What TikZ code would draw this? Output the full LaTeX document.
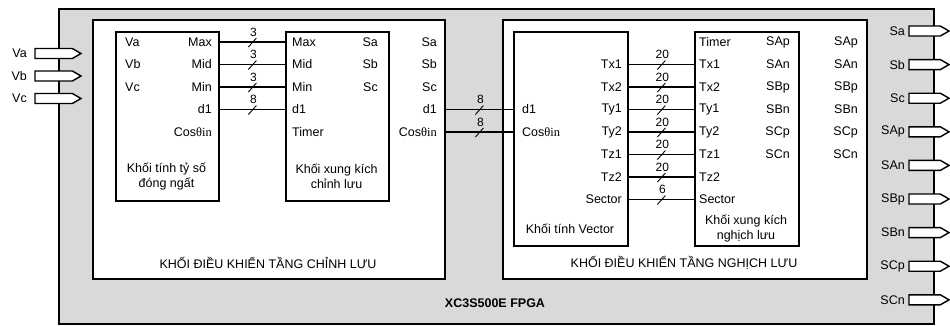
\documentclass[tikz,border=0pt]{standalone}
\usepackage{fontspec}
\setmainfont{Liberation Sans}
\newfontfamily\serifth{Liberation Serif}
\usepackage{tikz}
\usetikzlibrary{shapes.symbols, positioning}
\definecolor{chipgray}{RGB}{217,217,217}
\newcommand{\costh}{Cos{\serifth θin}}

\begin{document}
\begin{tikzpicture}[x=1pt, y=-1pt,
    txt/.style={font=\fontsize{12.5}{15}\selectfont, inner sep=0pt},
    blk/.style={draw, line width=1.8pt, fill=white, anchor=north west, inner sep=0pt},
    port/.style={draw, line width=1.4pt, fill=white, signal, signal to=east, signal pointer angle=60, minimum height=10pt, inner sep=0pt, outer sep=0pt},
    link/.style={draw, line width=1.8pt},
    pics/bus/.style={code={\draw[line width=0.9pt] (-4,5) -- (4,-4); \node[font=\fontsize{12}{14}\selectfont, inner sep=0pt] at (1,-10) {#1};}}
]
    \useasboundingbox (0,0) rectangle (950,325);

    % Boxes
    \node[blk, fill=chipgray, minimum width=875pt, minimum height=315pt] (fpga) at (58,8) {};
    \node[blk, minimum width=352pt, minimum height=259pt] (ctrlrec) at (92,19) {};
    \node[blk, minimum width=364pt, minimum height=259pt] (ctrlinv) at (502,19) {};
    \node[blk, minimum width=103pt, minimum height=169pt] (tyso) at (115,31) {};
    \node[blk, minimum width=103pt, minimum height=169pt] (xungcl) at (285,31) {};
    \node[blk, minimum width=114pt, minimum height=214pt] (vector) at (513,31) {};
    \node[blk, minimum width=104pt, minimum height=214pt] (xungnl) at (694,31) {};

    % Titles
    \node[txt, font=\fontsize{12.5}{15}\selectfont\bfseries] (chip) at (495,303) {XC3S500E FPGA};
    \node[txt] (rec-title) at (268,263) {KHỐI ĐIỀU KHIỂN TẦNG CHỈNH LƯU};
    \node[txt] (inv-title) at (684,263) {KHỐI ĐIỀU KHIỂN TẦNG NGHỊCH LƯU};
    \node[txt, align=center] (tyso-txt) at (166.5,176) {Khối tính tỷ số\\đóng ngất};
    \node[txt, align=center] (xungcl-txt) at (336.5,176) {Khối xung kích\\chỉnh lưu};
    \node[txt] (vec-txt) at (570,229) {Khối tính Vector};
    \node[txt, align=center] (xungnl-txt) at (746,228.5) {Khối xung kích\\nghịch lưu};

    % Pin labels
    \foreach \t [count=\i] in {Va,Vb,Vc}
        \node[txt, anchor=west] (tyso-l\i) at (125,19.5+22.5*\i) {\t};
    \foreach \t [count=\i] in {Max,Mid,Min,d1,\costh}
        \node[txt, anchor=east] (tyso-r\i) at (212,19.5+22.5*\i) {\t};
    \foreach \t [count=\i] in {Max,Mid,Min,d1,Timer}
        \node[txt, anchor=west] (xungcl-l\i) at (292,19.5+22.5*\i) {\t};
    \foreach \t [count=\i] in {Sa,Sb,Sc}
        \node[txt, anchor=east] (xungcl-r\i) at (378,19.5+22.5*\i) {\t};
    \foreach \t [count=\i] in {Sa,Sb,Sc,d1,\costh}
        \node[txt, anchor=east] (rec-o\i) at (437,19.5+22.5*\i) {\t};
    \foreach \t [count=\i from 4] in {d1,\costh}
        \node[txt, anchor=west] (vec-l\i) at (522,19.5+22.5*\i) {\t};
    \foreach \t [count=\i from 2] in {Tx1,Tx2,Ty1,Ty2,Tz1,Tz2,Sector}
        \node[txt, anchor=east] (vec-r\i) at (622,19.5+22.5*\i) {\t};
    \foreach \t [count=\i] in {Timer,Tx1,Tx2,Ty1,Ty2,Tz1,Tz2,Sector}
        \node[txt, anchor=west] (xungnl-l\i) at (699,19.5+22.5*\i) {\t};
    \foreach \t [count=\i] in {SAp,SAn,SBp,SBn,SCp,SCn} {
        \node[txt, anchor=east] (xungnl-r\i) at (790,19.5+22.5*\i) {\t};
        \node[txt, anchor=east] (inv-o\i) at (858,19.5+22.5*\i) {\t};
    }

    % Buses
    \foreach \w [count=\i] in {3,3,3,8}
        \draw[link] (tyso.east |- tyso-r\i) -- pic[pos=.5]{bus=\w} (xungcl.west |- xungcl-l\i);
    \draw[link] (ctrlrec.east |- rec-o4) -- pic[pos=.5]{bus=8} (vector.west |- vec-l4);
    \draw[link] (ctrlrec.east |- rec-o5) -- pic[pos=.5]{bus=8} (vector.west |- vec-l5);
    \foreach \w [count=\i from 2] in {20,20,20,20,20,20,6}
        \draw[link] (vector.east |- vec-r\i) -- pic[pos=.5]{bus=\w} (xungnl.west |- xungnl-l\i);

    % Ports
    \foreach \n [count=\i from 0] in {Va,Vb,Vc} {
        \node[port, minimum width=46pt, anchor=west] (in-\n) at (35,53.5+22.5*\i) {};
        \node[txt, left=8pt of in-\n] (in-\n-lbl) {\n};
    }
    \foreach \n [count=\i from 0] in {Sa,Sb,Sc,SAp,SAn,SBp,SBn,SCp,SCn} {
        \node[port, minimum width=40pt, anchor=west] (out-\n) at (909,31+33.6*\i) {};
        \node[txt, left=4pt of out-\n] (out-\n-lbl) {\n};
    }
\end{tikzpicture}
\end{document}
